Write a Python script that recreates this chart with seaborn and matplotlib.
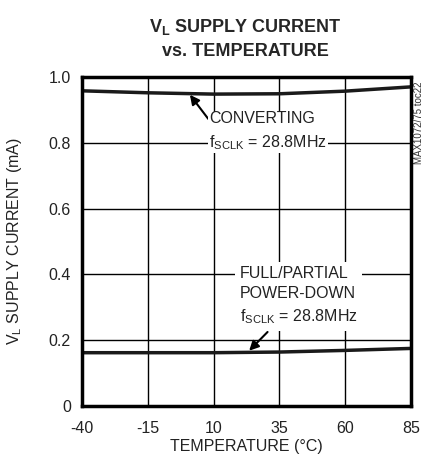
import matplotlib
matplotlib.use("Agg")
import matplotlib.pyplot as plt
import seaborn as sns

# data
temperature = [-40, -15, 10, 35, 60, 85]
converting_ma = [0.958, 0.952, 0.948, 0.949, 0.957, 0.970]
powerdown_ma = [0.162, 0.162, 0.162, 0.164, 0.169, 0.175]
x_ticks = [-40, -15, 10, 35, 60, 85]
y_ticks = [0, 0.2, 0.4, 0.6, 0.8, 1.0]
y_ticklabels = ["0", "0.2", "0.4", "0.6", "0.8", "1.0"]

sns.set_style("white")
plt.rcParams["font.family"] = ["Liberation Sans", "DejaVu Sans"]
plt.rcParams["mathtext.fontset"] = "custom"
plt.rcParams["mathtext.rm"] = "Liberation Sans"
plt.rcParams["mathtext.bf"] = "Liberation Sans:bold"
plt.rcParams["axes.unicode_minus"] = False

fig = plt.figure(figsize=(4.24, 4.63), dpi=100)
ax = fig.add_axes([82 / 424, 1 - 406 / 463, 329 / 424, 329 / 463])

sns.lineplot(x=temperature, y=converting_ma, ax=ax, color="#1a1a1a", lw=2.5)
sns.lineplot(x=temperature, y=powerdown_ma, ax=ax, color="#1a1a1a", lw=2.5)

ax.set_xlim(-40, 85)
ax.set_ylim(0, 1.0)
ax.set_xticks(x_ticks)
ax.set_yticks(y_ticks)
ax.set_yticklabels(y_ticklabels)
ax.grid(True, color="black", lw=1.0)
ax.tick_params(length=0, labelsize=11.5, colors="#222222")
ax.tick_params(axis="x", pad=11)
ax.tick_params(axis="y", pad=8)
for s in ax.spines.values():
    s.set_linewidth(2.5)
    s.set_color("black")

ax.set_xlabel("TEMPERATURE (°C)", fontsize=11.5, color="#222222", labelpad=2)
ax.set_ylabel("V$_\\mathregular{L}$ SUPPLY CURRENT (mA)", fontsize=11.5,
              color="#222222", labelpad=18)

fig.text(0.578, 0.917, "V$_\\mathbf{L}$ SUPPLY CURRENT\nvs. TEMPERATURE",
         ha="center", va="center", fontsize=13, fontweight="bold",
         linespacing=1.45)

# annotations
ax.annotate("CONVERTING\nf$_\\mathregular{SCLK}$ = 28.8MHz", xy=(1, 0.946),
            xytext=(8.3, 0.834), fontsize=11.5, color="#222222", va="center",
            ha="left", linespacing=1.55,
            bbox=dict(boxstyle="square,pad=0.05", fc="white", ec="none"),
            arrowprops=dict(arrowstyle="-|>", color="black", lw=1.5,
                            mutation_scale=14, shrinkA=0, shrinkB=0,
                            relpos=(0, 0.78)))
ax.annotate("FULL/PARTIAL\nPOWER-DOWN\nf$_\\mathregular{SCLK}$ = 28.8MHz",
            xy=(23.5, 0.168), xytext=(20, 0.335), fontsize=11.5,
            color="#222222", va="center", ha="left", linespacing=1.45,
            bbox=dict(boxstyle="square,pad=0.3", fc="white", ec="none"))
ax.annotate("", xy=(23.5, 0.168), xytext=(30.5, 0.225),
            arrowprops=dict(arrowstyle="-|>", color="black", lw=1.5,
                            mutation_scale=14, shrinkA=0, shrinkB=0))

fig.text(0.988, 0.734, "MAX1072/75 toc22", rotation=90, fontsize=7,
         ha="center", va="center", color="#333333")

fig.savefig("out.png", dpi=100)
